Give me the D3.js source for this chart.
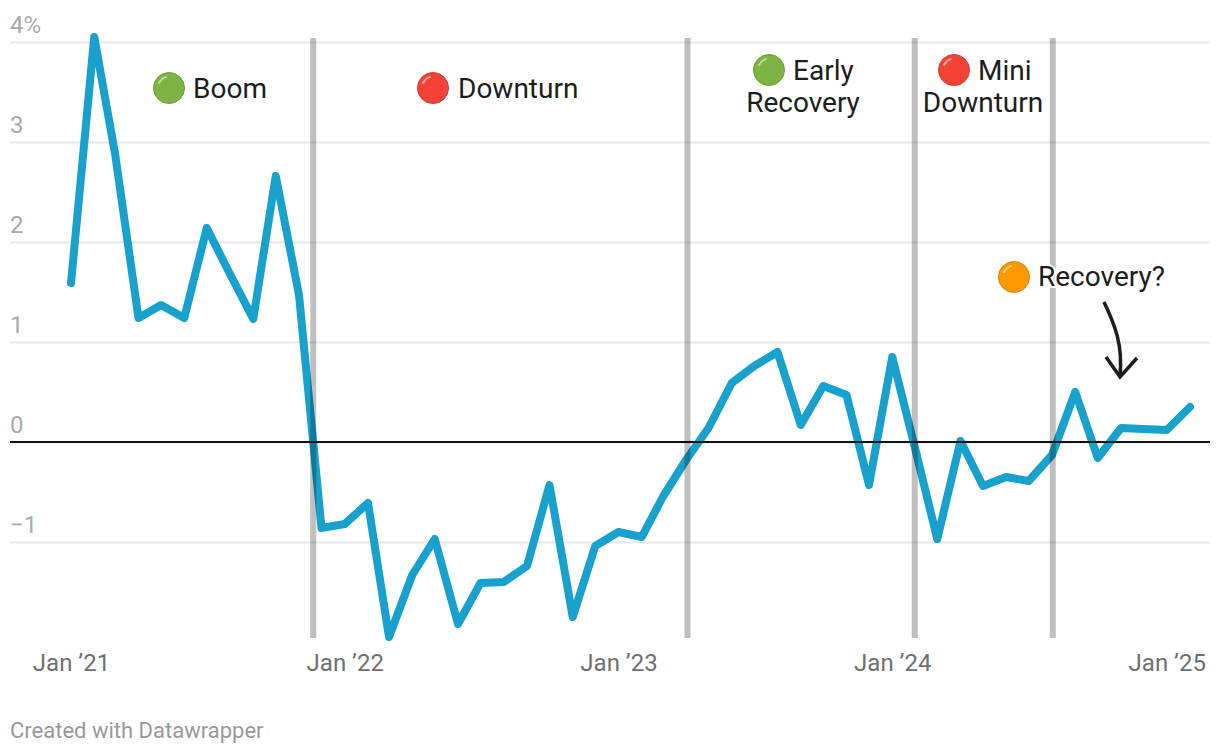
<!DOCTYPE html>
<html>
<head>
<meta charset="utf-8">
<script src="https://cdn.jsdelivr.net/npm/d3@7"></script>
<style>
  html, body { margin: 0; padding: 0; background: #fff; }
  svg { display: block; }
  text { font-family: Roboto, sans-serif; }
</style>
</head>
<body>
<svg></svg>
<script>
// Monthly values, Jan 2021 to Feb 2025
const startMonth = "2021-01-01";
const values = [
  1.59, 4.05, 2.87, 1.24, 1.37, 1.24, 2.14, 1.68, 1.23, 2.66,
  1.47, -0.86, -0.82, -0.61, -1.95, -1.33, -0.97, -1.82, -1.41, -1.40,
  -1.24, -0.43, -1.75, -1.04, -0.90, -0.95, -0.55, -0.18, 0.14, 0.59,
  0.76, 0.90, 0.17, 0.56, 0.47, -0.43, 0.85, -0.08, -0.97, 0.01,
  -0.44, -0.35, -0.39, -0.13, 0.50, -0.16, 0.14, 0.13, 0.12, 0.35
];
const yTicks = [4, 3, 2, 1, 0, -1];
const xTicks = ["2021-01-01", "2022-01-01", "2023-01-01", "2024-01-01", "2025-01-01"];
const phaseBreaks = ["2021-11-20", "2023-04-03", "2024-01-31", "2024-08-02"];
const phaseNames = ["Boom", "Downturn", "Early", "Recovery", "Mini", "Downturn", "Recovery?"];
const phaseColors = ["#7cb342", "#f44336", "#7cb342", "#f44336", "#ff9800"];

const width = 1220;
const height = 754;
const margin = { top: 42, right: 10, bottom: 116, left: 10 };

const svg = d3.select("svg")
  .attr("width", width)
  .attr("height", height);

const parseDate = d3.utcParse("%Y-%m-%d");
const months = d3.utcMonth.range(parseDate(startMonth), d3.utcMonth.offset(parseDate(startMonth), values.length));

const x = d3.scaleUtc()
  .domain(d3.extent(months))
  .range([71, 1190]);

const y = d3.scaleLinear()
  .domain([4, -1.96])
  .range([margin.top, height - margin.bottom]);

// Gridlines and y labels
const yAxis = svg.append("g")
  .attr("transform", `translate(${margin.left}, 0)`)
  .call(d3.axisRight(y)
    .tickValues(yTicks)
    .tickSize(width - margin.left - margin.right)
    .tickFormat(d => d === 4 ? "4%" : d < 0 ? "\u2212" + Math.abs(d) : d));

yAxis.select(".domain").remove();
yAxis.selectAll("line")
  .attr("stroke", "#e8e8e8")
  .attr("stroke-width", 2);
yAxis.selectAll("text")
  .attr("x", 0)
  .attr("dy", -10)
  .attr("text-anchor", "start")
  .attr("fill", "#aaaaaa")
  .style("font-size", "24px");

// x labels
const xAxis = svg.append("g")
  .attr("transform", `translate(0, ${height - margin.bottom})`)
  .call(d3.axisBottom(x)
    .tickValues(xTicks.map(parseDate))
    .tickSize(0)
    .tickPadding(0)
    .tickFormat(d => "Jan \u2019" + d3.utcFormat("%y")(d)));

xAxis.select(".domain").remove();
xAxis.selectAll("text")
  .attr("y", 33)
  .attr("dy", 0)
  .attr("fill", "#707070")
  .style("font-size", "24px");

// The series
const line = d3.line()
  .x((d, i) => x(months[i]))
  .y(d => y(d));

svg.append("path")
  .datum(values)
  .attr("fill", "none")
  .attr("stroke", "#18a1cd")
  .attr("stroke-width", 8)
  .attr("stroke-linejoin", "round")
  .attr("stroke-linecap", "round")
  .attr("d", line);

// Zero line
svg.append("line")
  .attr("x1", margin.left)
  .attr("x2", width - margin.right)
  .attr("y1", y(0))
  .attr("y2", y(0))
  .attr("stroke", "#111111")
  .attr("stroke-width", 2);

// Phase separators
svg.selectAll(".phase")
  .data(phaseBreaks)
  .enter()
  .append("line")
  .attr("class", "phase")
  .attr("x1", d => x(parseDate(d)))
  .attr("x2", d => x(parseDate(d)))
  .attr("y1", 38)
  .attr("y2", height - margin.bottom)
  .attr("stroke", "#000")
  .attr("stroke-opacity", 0.25)
  .attr("stroke-width", 6);

// Labels
const labelLayout = [
  { x: 193, y: 98, anchor: "start" },
  { x: 458, y: 98, anchor: "start" },
  { x: 793, y: 80, anchor: "start" },
  { x: 803, y: 112, anchor: "middle" },
  { x: 978, y: 80, anchor: "start" },
  { x: 983, y: 112, anchor: "middle" },
  { x: 1038, y: 286, anchor: "start" }
];

svg.selectAll(".label")
  .data(phaseNames)
  .enter()
  .append("text")
  .attr("class", "label")
  .attr("x", (d, i) => labelLayout[i].x)
  .attr("y", (d, i) => labelLayout[i].y)
  .attr("text-anchor", (d, i) => labelLayout[i].anchor)
  .attr("fill", "#1d1d1d")
  .attr("stroke", "#fff")
  .attr("stroke-width", 4)
  .attr("paint-order", "stroke")
  .style("font-size", "28px")
  .text(d => d);

// Round badges beside the labels
const badgeLayout = [[169, 88], [433, 88], [769, 70], [954, 70], [1014, 277]];

const badges = svg.selectAll(".badge")
  .data(phaseColors)
  .enter()
  .append("g")
  .attr("class", "badge")
  .attr("transform", (d, i) => `translate(${badgeLayout[i][0]}, ${badgeLayout[i][1]})`);

badges.append("circle")
  .attr("r", 15.5)
  .attr("fill", d => d)
  .attr("stroke", d => d3.color(d).darker(0.4))
  .attr("stroke-width", 1);

badges.append("path")
  .attr("d", "M-10,-5 Q-7,-10 -3,-11")
  .attr("fill", "none")
  .attr("stroke", "#fff")
  .attr("stroke-opacity", 0.5)
  .attr("stroke-width", 2)
  .attr("stroke-linecap", "round");

// Arrow under "Recovery?"
svg.append("path")
  .attr("d", "M1104,302 C1115,325 1123,345 1120,376 M1106,357 L1120,377 L1137,358")
  .attr("fill", "none")
  .attr("stroke", "#1d1d1d")
  .attr("stroke-width", 3.5);

// Footer
svg.append("text")
  .attr("x", 10)
  .attr("y", 738)
  .attr("fill", "#999999")
  .style("font-size", "22px")
  .text("Created with Datawrapper");
</script>
</body>
</html>
